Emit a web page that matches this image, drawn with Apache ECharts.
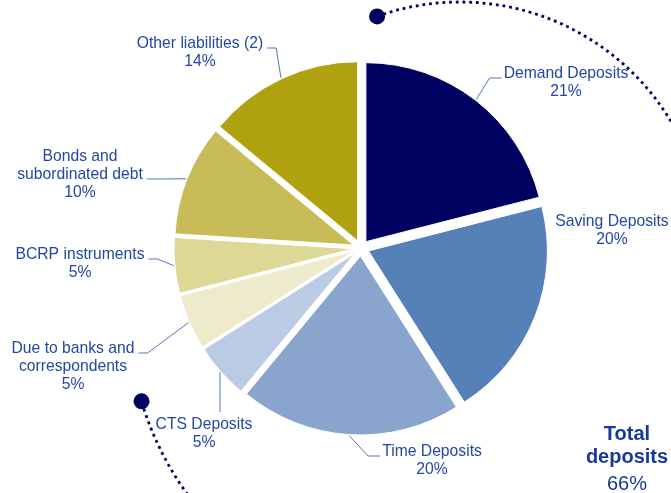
<!DOCTYPE html>
<html><head><meta charset="utf-8">
<script src="https://cdn.jsdelivr.net/npm/echarts@6/dist/echarts.min.js"></script>
<style>html,body{margin:0;padding:0;background:#fff}#c{width:671px;height:493px}</style>
</head><body><div id="c"></div>
<script>
// ---- data ----
const categories = ['Demand Deposits', 'Saving Deposits', 'Time Deposits', 'CTS Deposits',
  'Due to banks and\ncorrespondents', 'BCRP instruments', 'Bonds and\nsubordinated debt', 'Other liabilities (2)'];
const shares = [21, 20, 20, 5, 5, 5, 10, 14];
const isDeposit = [true, true, true, true, false, false, false, false];
const totalTitle = ['Total', 'deposits'];

// ---- styles ----
const colors = ['#000060', '#5580B8', '#8AA5CD', '#BACBE3', '#EEEBCC', '#DED897', '#C8BC59', '#B0A20F'];
const FONT = "'Liberation Sans', Arial, sans-serif";
const LABEL_COLOR = '#2447A3';
const LH = 18;
const CENTER = [361, 248];
const RADIUS = 179;
const EXPLODE = 8;
// label placement: centre x, first-line centre y, side where the leader enters, which line it meets
const labelPlace = [
  { x: 566, y: 74, side: 'left', line: 0 },
  { x: 612, y: 222, side: 'none' },
  { x: 432, y: 452, side: 'left', line: 0 },
  { x: 204, y: 425, side: 'top' },
  { x: 73, y: 349, side: 'right', line: 0 },
  { x: 80, y: 255, side: 'right', line: 0 },
  { x: 80, y: 157, side: 'right', line: 1 },
  { x: 200, y: 44, side: 'right', line: 0 }
];

const depositTotal = shares.reduce((s, v, i) => s + (isDeposit[i] ? v : 0), 0);

// decorative dotted bracket
const arcTop = { cx: 460, cy: 248, r: 246, a0: -109.7, a1: -4 };
const arcBot = { cx: 433, cy: 315, r: 304, a0: 140, a1: 163.5 };
const rad = d => d * Math.PI / 180;
const pt = (a, d) => [a.cx + a.r * Math.cos(rad(d)), a.cy + a.r * Math.sin(rad(d))];
const dotA = pt(arcTop, arcTop.a0), dotB = pt(arcBot, arcBot.a1);
const dotStyle = { stroke: '#000060', lineWidth: 2.8, lineDash: [2.8, 3.9], fill: null };

const common = { type: 'pie', center: CENTER, radius: RADIUS, startAngle: 90, clockwise: true, avoidLabelOverlap: false, emphasis: { disabled: true } };

const chart = echarts.init(document.getElementById('c'), null, { renderer: 'canvas' });
chart.setOption({
  animation: false,
  backgroundColor: '#fff',
  series: [
    Object.assign({}, common, {
      selectedMode: 'multiple',
      selectedOffset: EXPLODE,
      itemStyle: { borderColor: '#fff', borderWidth: 1 },
      label: { show: false },
      labelLine: { show: false },
      data: categories.map((n, i) => ({ name: n, value: shares[i], selected: true, itemStyle: { color: colors[i] } }))
    }),
    Object.assign({}, common, {
      silent: true,
      selectedMode: false,
      itemStyle: { color: 'rgba(0,0,0,0)', borderWidth: 0 },
      label: {
        show: true, position: 'outside', overflow: 'none',
        formatter: p => p.name + '\n' + p.value + '%',
        color: LABEL_COLOR, fontSize: 15.7, lineHeight: LH, fontFamily: FONT
      },
      labelLine: { show: true, lineStyle: { color: '#5078B8', width: 1 } },
      labelLayout: function (p) {
        const L = labelPlace[p.dataIndex];
        const w = p.labelRect.width;
        const top = L.y - LH / 2;
        const res = { x: L.x, y: top, align: 'center', verticalAlign: 'top' };
        const s0 = p.labelLinePoints && p.labelLinePoints[0];
        if (s0) {
          const dx = s0[0] - CENTER[0], dy = s0[1] - CENTER[1], d = Math.hypot(dx, dy) || 1;
          const s = [s0[0] + dx / d * (EXPLODE + 1), s0[1] + dy / d * (EXPLODE + 1)];
          const ly = L.y + (L.line || 0) * LH + 4;
          if (L.side === 'left') {
            const ex = L.x - w / 2 - 2;
            res.labelLinePoints = [s, [ex - 12, ly], [ex, ly]];
          } else if (L.side === 'right') {
            const ex = L.x + w / 2 + 4;
            res.labelLinePoints = [s, [ex + 9, ly], [ex, ly]];
          } else if (L.side === 'top') {
            res.labelLinePoints = [s, [s[0], top - 4]];
          }
        }
        return res;
      },
      data: categories.map((n, i) => ({
        name: n, value: shares[i],
        labelLine: { show: labelPlace[i].side !== 'none' }
      }))
    })
  ],
  graphic: [
    { type: 'arc', silent: true, shape: { cx: arcTop.cx, cy: arcTop.cy, r: arcTop.r, startAngle: rad(arcTop.a0), endAngle: rad(arcTop.a1), clockwise: true }, style: dotStyle },
    { type: 'arc', silent: true, shape: { cx: arcBot.cx, cy: arcBot.cy, r: arcBot.r, startAngle: rad(arcBot.a0), endAngle: rad(arcBot.a1), clockwise: true }, style: dotStyle },
    { type: 'circle', silent: true, shape: { cx: dotA[0], cy: dotA[1], r: 8 }, style: { fill: '#000060' } },
    { type: 'circle', silent: true, shape: { cx: dotB[0], cy: dotB[1], r: 8 }, style: { fill: '#000060' } },
    { type: 'text', silent: true, x: 627, y: 434, style: { text: totalTitle[0], font: "bold 20px " + FONT, fill: '#163A99', align: 'center', verticalAlign: 'middle' } },
    { type: 'text', silent: true, x: 627, y: 457, style: { text: totalTitle[1], font: "bold 20px " + FONT, fill: '#163A99', align: 'center', verticalAlign: 'middle' } },
    { type: 'text', silent: true, x: 627, y: 484, style: { text: depositTotal + '%', font: "20px " + FONT, fill: '#163A99', align: 'center', verticalAlign: 'middle' } }
  ]
});
</script>
</body></html>
